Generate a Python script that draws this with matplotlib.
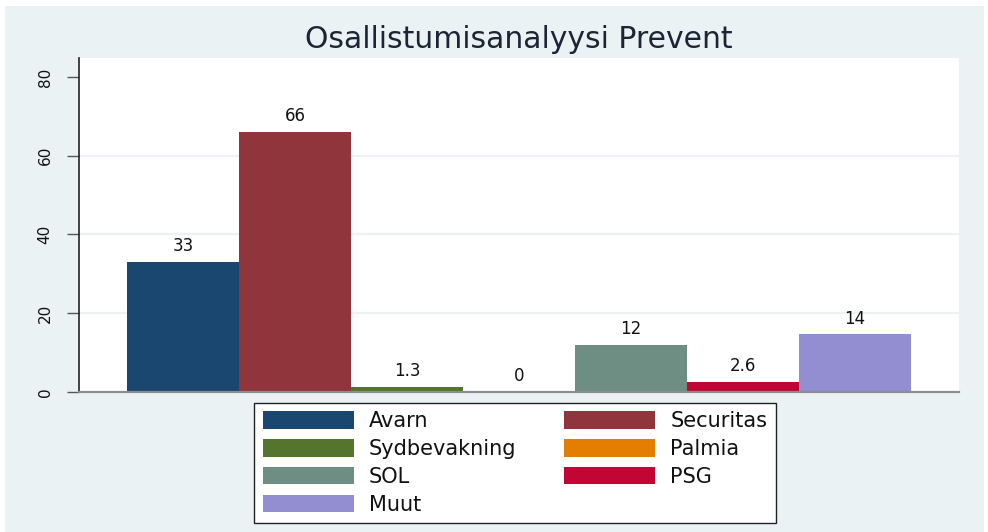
import matplotlib

matplotlib.use("Agg")
import matplotlib.pyplot as plt
from matplotlib.patches import Patch, Rectangle

TITLE = "Osallistumisanalyysi Prevent"
companies = ["Avarn", "Securitas", "Sydbevakning", "Palmia", "SOL", "PSG", "Muut"]
shares = [33, 66, 1.3, 0, 12, 2.6, 14.6]
share_labels = ["33", "66", "1.3", "0", "12", "2.6", "14"]
colors = ["#1a476f", "#90353b", "#55752f", "#e37e00", "#6e8e84", "#c10534", "#938dd2"]
y_ticks = [0, 20, 40, 60, 80]

BG = "#eaf2f3"


def main():
    fig = plt.figure(figsize=(9.88, 5.32), dpi=100, facecolor="white")
    fig.patches.append(
        Rectangle((5 / 988, 0), 979 / 988, 1 - 6 / 532, transform=fig.transFigure,
                  facecolor=BG, edgecolor="none", zorder=-5)
    )

    ax = fig.add_axes([79 / 988, 1 - 392 / 532, 880 / 988, 334 / 532])
    ax.set_facecolor("white")

    xs = list(range(len(companies)))
    ax.bar(xs, shares, width=1.0, color=colors, edgecolor="none", zorder=2)
    for x, v, lab in zip(xs, shares, share_labels):
        ax.annotate(lab, (x, v), xytext=(0, 5), textcoords="offset points",
                    ha="center", va="bottom", fontsize=12, color="#111111")

    ax.set_xlim(-0.5 - 0.4286, len(companies) - 0.5 + 0.4286)
    ax.set_ylim(0, 84.8)
    ax.set_xticks([])
    ax.set_yticks(y_ticks)
    ax.set_yticklabels([str(t) for t in y_ticks], rotation=90, va="center")
    ax.tick_params(axis="y", length=9, width=1, color="#555555", pad=10,
                   labelsize=11, labelcolor="#111111")
    for t in y_ticks[1:-1]:
        ax.axhline(t, color=BG, linewidth=1.6, zorder=1)

    for side in ["top", "right"]:
        ax.spines[side].set_visible(False)
    ax.spines["left"].set_color("#222222")
    ax.spines["left"].set_linewidth(1.2)
    ax.spines["bottom"].set_color("#8a8f90")
    ax.spines["bottom"].set_linewidth(1.6)
    ax.spines["bottom"].set_zorder(3)

    fig.text(519 / 988, 1 - 40 / 532, TITLE, ha="center", va="center",
             fontsize=21.5, color="#1c2535")

    # legend is filled row by row in the original, matplotlib fills columns
    handles = [Patch(facecolor=c, edgecolor="none") for c in colors]
    order = [0, 2, 4, 6, 1, 3, 5]
    leg = fig.legend(
        [handles[i] for i in order],
        [companies[i] for i in order],
        ncol=2,
        loc="center",
        bbox_to_anchor=(515 / 988, 1 - 463 / 532),
        fontsize=15,
        frameon=True,
        fancybox=False,
        framealpha=1.0,
        handlelength=4.37,
        handleheight=0.9,
        handletextpad=0.72,
        columnspacing=2.3,
        labelspacing=0.38,
        borderpad=0.4,
    )
    leg.get_frame().set_edgecolor("#222222")
    leg.get_frame().set_linewidth(1.0)
    for txt in leg.get_texts():
        txt.set_color("#111111")

    fig.savefig("out.png", dpi=100, facecolor=fig.get_facecolor())
    plt.close(fig)


if __name__ == "__main__":
    main()
